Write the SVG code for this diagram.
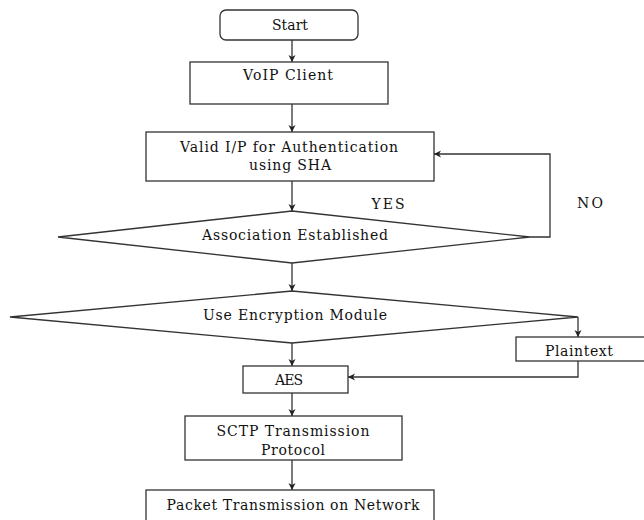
<svg xmlns="http://www.w3.org/2000/svg" width="644" height="520" viewBox="0 0 644 520">
<defs>
<marker id="arr" markerWidth="8" markerHeight="8" refX="7" refY="4" orient="auto" markerUnits="userSpaceOnUse">
<path d="M0,0.5 L7,4 L0,7.5 L2,4 Z" fill="#222"/>
</marker>
<style>
.box{fill:#fff;stroke:#333;stroke-width:1.3}
.t{font-family:"DejaVu Serif","Liberation Serif",serif;font-size:14px;fill:#111;text-anchor:middle}
.c{fill:none;stroke:#333;stroke-width:1.3}
</style>
</defs>
<rect width="644" height="520" fill="#fff"/>
<g id="connectors">
<path class="c" d="M292,40 V62" marker-end="url(#arr)"/>
<path class="c" d="M292,104 V132" marker-end="url(#arr)"/>
<path class="c" d="M292,181 V211" marker-end="url(#arr)"/>
<path class="c" d="M530,237 H550 V154 H434" marker-end="url(#arr)"/>
<path class="c" d="M292,263 V291" marker-end="url(#arr)"/>
<path class="c" d="M578,317 V337" marker-end="url(#arr)"/>
<path class="c" d="M292,343 V366" marker-end="url(#arr)"/>
<path class="c" d="M578,361 V377 H348" marker-end="url(#arr)"/>
<path class="c" d="M292,393 V416" marker-end="url(#arr)"/>
<path class="c" d="M292,460 V490" marker-end="url(#arr)"/>
<text class="t" x="388" y="209" textLength="33">YES</text>
<text class="t" x="590" y="208" textLength="26">NO</text>
</g>
<g id="start">
<rect class="box" x="220" y="10" width="138" height="30" rx="6"/>
<text class="t" x="290" y="30" textLength="36">Start</text>
</g>
<g id="voip">
<rect class="box" x="190" y="62" width="198" height="42"/>
<text class="t" x="288" y="80" textLength="90">VoIP Client</text>
</g>
<g id="valid">
<rect class="box" x="146" y="132" width="288" height="49"/>
<text class="t" x="289" y="152" textLength="218">Valid I/P for Authentication</text>
<text class="t" x="290" y="170" textLength="82">using SHA</text>
</g>
<g id="assoc">
<polygon class="box" points="292,211 530,237 292,263 58,237"/>
<text class="t" x="295" y="240" textLength="186">Association Established</text>
</g>
<g id="encrypt">
<polygon class="box" points="292,291 578,317 292,343 10,317"/>
<text class="t" x="295" y="320" textLength="184">Use Encryption Module</text>
</g>
<g id="plaintext">
<rect class="box" x="516" y="337" width="130" height="24"/>
<text class="t" x="579" y="356" textLength="68">Plaintext</text>
</g>
<g id="aes">
<rect class="box" x="243" y="366" width="105" height="27"/>
<text class="t" x="289" y="385" textLength="28">AES</text>
</g>
<g id="sctp">
<rect class="box" x="185" y="416" width="217" height="44"/>
<text class="t" x="293" y="436" textLength="153">SCTP Transmission</text>
<text class="t" x="293" y="455" textLength="64">Protocol</text>
</g>
<g id="packet">
<rect class="box" x="146" y="490" width="288" height="40"/>
<text class="t" x="293" y="510" textLength="253">Packet Transmission on Network</text>
</g>
</svg>
